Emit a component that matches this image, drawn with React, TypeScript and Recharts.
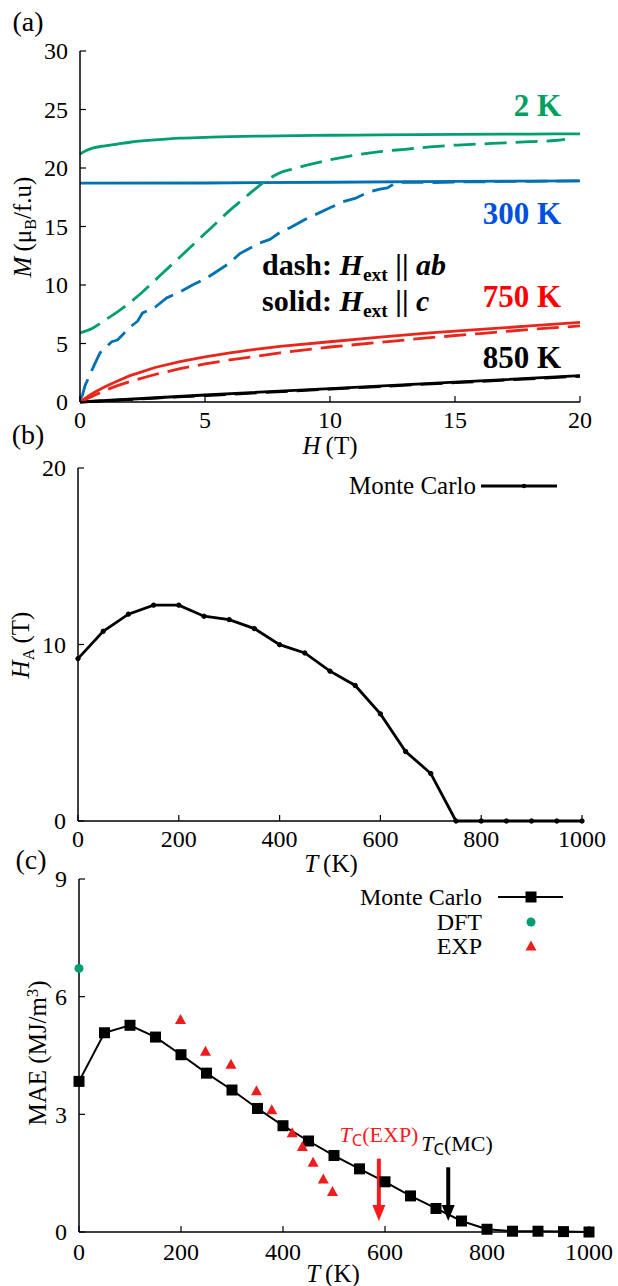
import React from "react";
import {
  LineChart,
  ComposedChart,
  Line,
  Scatter,
  XAxis,
  YAxis,
  ReferenceLine,
} from "recharts";

const SERIF = "'Liberation Serif', 'Times New Roman', serif";

// ---- (a) magnetisation curves, H in T, M in muB/f.u.
const h2Kc = [0, 0.25, 0.5, 1, 1.5, 2, 3, 4, 5, 6, 8, 10, 12, 15, 18, 20];
const m2Kc = [21.2, 21.5, 21.7, 21.9, 22.05, 22.2, 22.4, 22.55, 22.62, 22.68, 22.75, 22.8, 22.83, 22.87, 22.9, 22.92];
const h2Kab = [0, 0.5, 1, 1.5, 2, 2.5, 3, 3.5, 4, 4.5, 5, 5.5, 6, 6.5, 7, 7.5, 8, 8.5, 9, 10, 11, 12, 13, 14, 15, 16, 17, 18, 19, 19.4];
const m2Kab = [5.9, 6.3, 7.0, 7.7, 8.5, 9.4, 10.4, 11.4, 12.4, 13.4, 14.4, 15.4, 16.4, 17.3, 18.2, 19.0, 19.6, 19.9, 20.2, 20.7, 21.1, 21.4, 21.6, 21.8, 21.95, 22.05, 22.15, 22.25, 22.35, 22.45];
const h300c = [0, 5, 10, 15, 20];
const m300c = [18.7, 18.72, 18.78, 18.85, 18.9];
const h300ab = [0, 0.1, 0.2, 0.37, 0.6, 0.8, 1.0, 1.27, 1.5, 2.0, 2.3, 2.5, 3.0, 3.47, 4.0, 4.5, 5.07, 5.5, 6.0, 6.4, 7.2, 7.6, 8.0, 8.4, 9.0, 9.5, 10.0, 10.5, 11.0, 11.5, 12.0, 12.3, 12.6, 13, 14, 15, 16, 17, 18, 19, 20];
const m300ab = [0.2, 0.6, 1.4, 2.2, 3.3, 4.2, 4.6, 5.15, 5.3, 6.4, 6.9, 7.6, 8.1, 8.9, 9.4, 10.0, 10.6, 11.2, 11.9, 12.7, 13.6, 13.9, 14.5, 14.9, 15.6, 16.1, 16.6, 17.1, 17.4, 17.9, 18.2, 18.3, 18.7, 18.8, 18.75, 18.8, 18.82, 18.85, 18.85, 18.88, 18.9];
const h750c = [0, 0.3, 0.6, 1, 1.5, 2, 2.5, 3, 4, 5, 6, 7, 8, 10, 12, 14, 16, 18, 20];
const m750c = [0, 0.45, 0.85, 1.3, 1.8, 2.25, 2.6, 2.95, 3.45, 3.85, 4.2, 4.5, 4.75, 5.15, 5.55, 5.9, 6.2, 6.5, 6.8];
const h750ab = [0, 0.5, 1, 1.5, 2, 3, 4, 5, 6, 7, 8, 10, 12, 14, 16, 18, 20];
const m750ab = [0, 0.5, 1.0, 1.4, 1.75, 2.35, 2.85, 3.25, 3.6, 3.9, 4.2, 4.7, 5.1, 5.5, 5.85, 6.2, 6.5];
const h850 = [0, 5, 10, 15, 20];
const m850c = [0, 0.6, 1.15, 1.7, 2.25];
const m850ab = [0, 0.55, 1.1, 1.65, 2.2];

// ---- (b) anisotropy field vs temperature
const tempsMC = [0, 50, 100, 150, 200, 250, 300, 350, 400, 450, 500, 550, 600, 650, 700, 750, 800, 850, 900, 950, 1000];
const hA = [9.2, 10.75, 11.72, 12.23, 12.23, 11.6, 11.41, 10.9, 9.99, 9.52, 8.49, 7.68, 6.07, 3.94, 2.69, 0, 0, 0, 0, 0, 0];

// ---- (c) MAE vs temperature
const maeMC = [3.84, 5.08, 5.27, 4.97, 4.52, 4.05, 3.62, 3.15, 2.71, 2.32, 1.95, 1.61, 1.28, 0.92, 0.6, 0.28, 0.07, 0.02, 0.02, 0.01, 0];
const dftT = [0];
const dftMAE = [6.72];
const expT = [199, 248, 298, 348, 378, 418, 438, 459, 479, 497];
const expMAE = [5.42, 4.61, 4.28, 3.6, 3.12, 2.53, 2.18, 1.78, 1.35, 1.03];
const tcExp = 588;
const tcMC = 724;

const zip = (xs: number[], ys: number[]) => xs.map((x, i) => ({ x, y: ys[i] }));

const GREEN = "#009e73";
const BLUE = "#0072b2";
const RED = "#e8261c";

const axisLine = { stroke: "#000", strokeWidth: 1.5 };
const tickLine = { stroke: "#000", strokeWidth: 1.2 };

function SerifTick(props: any) {
  const { x, y, payload, textAnchor, orientation } = props;
  const dy = orientation === "bottom" ? "0.75em" : "0.35em";
  return (
    <text x={x} y={y} dy={dy} textAnchor={textAnchor} fontSize={24} fill="#000"
      style={{ fontFamily: SERIF }}>
      {payload.value}
    </text>
  );
}

function frameAxes(xDomain: number[], xTicks: number[], yDomain: number[], yTicks: number[], yWidth: number, xHeight: number, xMargin: number) {
  return [
    <XAxis key="xb" xAxisId="b" type="number" dataKey="x" domain={xDomain} ticks={xTicks} interval={0}
      height={xHeight} tickSize={-6} tickMargin={xMargin} tick={<SerifTick orientation="bottom" />} stroke="#000"
      axisLine={axisLine} tickLine={tickLine} />,
    <XAxis key="xt" xAxisId="t" orientation="top" type="number" dataKey="x" domain={xDomain} ticks={xTicks}
      interval={0} height={0} tickSize={-6} tick={false} stroke="#000" axisLine={axisLine} tickLine={tickLine} />,
    <YAxis key="yl" yAxisId="l" type="number" domain={yDomain} ticks={yTicks} interval={0} width={yWidth}
      tickSize={-6} tickMargin={18} tick={<SerifTick orientation="left" />} stroke="#000" axisLine={axisLine}
      tickLine={tickLine} />,
    <YAxis key="yr" yAxisId="r" orientation="right" type="number" domain={yDomain} ticks={yTicks} interval={0}
      width={0} tickSize={-6} tick={false} stroke="#000" axisLine={axisLine} tickLine={tickLine} />,
  ];
}

function Arrow(props: any) {
  const { x1, y1, x2, y2, stroke } = props;
  const head = 16;
  return (
    <g>
      <line x1={x1} y1={y1} x2={x2} y2={y2 - head + 2} stroke={stroke} strokeWidth={4} />
      <polygon points={`${x2 - 6.5},${y2 - head} ${x2 + 6.5},${y2 - head} ${x2},${y2}`} fill={stroke} />
    </g>
  );
}

const abs = (left: number, top: number, extra: React.CSSProperties = {}): React.CSSProperties => ({
  position: "absolute",
  left,
  top,
  whiteSpace: "nowrap",
  lineHeight: 1,
  ...extra,
});

function Sub({ children }: { children: React.ReactNode }) {
  return <span style={{ fontSize: "0.65em", position: "relative", top: "0.3em" }}>{children}</span>;
}

export default function App() {
  const lineA = { xAxisId: "b", yAxisId: "l", dataKey: "y", dot: false, isAnimationActive: false, strokeWidth: 2.8 } as const;
  const dash = "22 9";
  const title = { fontSize: 25, lineHeight: "20px" };
  const legendText = { fontSize: 24, lineHeight: "20px" };

  return (
    <div style={{ position: "absolute", left: 0, top: 0, width: 618, height: 1286, background: "#fff", fontFamily: SERIF, color: "#000" }}>
      {/* (a) */}
      <div style={{ position: "absolute", left: 0, top: 0 }}>
        <LineChart width={618} height={440} margin={{ top: 51, right: 38, left: 0, bottom: 0 }}>
          {frameAxes([0, 20], [0, 5, 10, 15, 20], [0, 30], [0, 5, 10, 15, 20, 25, 30], 80, 38, 14)}
          <Line {...lineA} data={zip(h850, m850ab)} stroke="#000" strokeDasharray={dash} />
          <Line {...lineA} data={zip(h850, m850c)} stroke="#000" />
          <Line {...lineA} data={zip(h750ab, m750ab)} stroke={RED} strokeDasharray={dash} />
          <Line {...lineA} data={zip(h750c, m750c)} stroke={RED} />
          <Line {...lineA} data={zip(h300ab, m300ab)} stroke={BLUE} strokeDasharray={dash} strokeLinejoin="round" />
          <Line {...lineA} data={zip(h300c, m300c)} stroke={BLUE} />
          <Line {...lineA} data={zip(h2Kab, m2Kab)} stroke={GREEN} strokeDasharray={dash} type="monotone" />
          <Line {...lineA} data={zip(h2Kc, m2Kc)} stroke={GREEN} type="monotone" />
        </LineChart>
      </div>

      {/* (b) */}
      <div style={{ position: "absolute", left: 0, top: 440 }}>
        <LineChart width={618} height={420} margin={{ top: 28, right: 36, left: 0, bottom: 0 }}>
          {frameAxes([0, 1000], [0, 200, 400, 600, 800, 1000], [0, 20], [0, 10, 20], 78, 39, 14)}
          <Line xAxisId="b" yAxisId="l" data={zip(tempsMC, hA)} dataKey="y" stroke="#000" strokeWidth={2.8}
            dot={{ r: 2.2, fill: "#000", stroke: "#000", strokeWidth: 1 }} isAnimationActive={false} />
        </LineChart>
      </div>

      {/* (c) */}
      <div style={{ position: "absolute", left: 0, top: 860 }}>
        <ComposedChart width={618} height={426} margin={{ top: 19, right: 29, left: 0, bottom: 0 }}>
          {frameAxes([0, 1000], [0, 200, 400, 600, 800, 1000], [0, 9], [0, 3, 6, 9], 79, 54, 16)}
          <Line xAxisId="b" yAxisId="l" data={zip(tempsMC, maeMC)} dataKey="y" stroke="#000" strokeWidth={2}
            isAnimationActive={false}
            dot={(p: any) => <rect key={`sq${p.index}`} x={p.cx - 5.5} y={p.cy - 5.5} width={11} height={11} fill="#000" />} />
          <Scatter xAxisId="b" yAxisId="l" data={zip(dftT, dftMAE)} dataKey="y" isAnimationActive={false}
            shape={(p: any) => <circle cx={p.cx} cy={p.cy} r={4.5} fill={GREEN} />} />
          <Scatter xAxisId="b" yAxisId="l" data={zip(expT, expMAE)} dataKey="y" isAnimationActive={false}
            shape={(p: any) => (
              <polygon points={`${p.cx - 5.5},${p.cy + 4.5} ${p.cx + 5.5},${p.cy + 4.5} ${p.cx},${p.cy - 5.5}`} fill="#ee1c1c" />
            )} />
          <ReferenceLine xAxisId="b" yAxisId="l" segment={[{ x: tcExp, y: 1.87 }, { x: tcExp, y: 0.28 }]}
            stroke="#ff1a1a" shape={Arrow} />
          <ReferenceLine xAxisId="b" yAxisId="l" segment={[{ x: tcMC, y: 1.65 }, { x: tcMC, y: 0.28 }]}
            stroke="#000" shape={Arrow} />
        </ComposedChart>
      </div>

      {/* panel letters */}
      <div style={abs(28, 22, { fontSize: 28, transform: "translate(-50%,-50%)" })}>(a)</div>
      <div style={abs(28, 435, { fontSize: 28, transform: "translate(-50%,-50%)" })}>(b)</div>
      <div style={abs(31, 860, { fontSize: 28, transform: "translate(-50%,-50%)" })}>(c)</div>

      {/* axis titles */}
      <div style={abs(330, 446, { ...title, transform: "translate(-50%,-50%)" })}><i>H</i>&thinsp;(T)</div>
      <div style={abs(331, 864, { ...title, transform: "translate(-50%,-50%)" })}><i>T</i>&thinsp;(K)</div>
      <div style={abs(333, 1274, { ...title, transform: "translate(-50%,-50%)" })}><i>T</i>&thinsp;(K)</div>
      <div style={abs(22, 227, { fontSize: 25, transform: "translate(-50%,-50%) rotate(-90deg)" })}>
        <i>M</i>&thinsp;(μ<Sub>B</Sub>/f.u)
      </div>
      <div style={abs(20, 645, { fontSize: 25, transform: "translate(-50%,-50%) rotate(-90deg)" })}>
        <i>H</i><Sub>A</Sub>&thinsp;(T)
      </div>
      <div style={abs(37, 1053, { fontSize: 25, transform: "translate(-50%,-50%) rotate(-90deg)" })}>
        MAE (MJ/m<span style={{ fontSize: "0.65em", position: "relative", top: "-0.5em" }}>3</span>)
      </div>

      {/* (a) annotations */}
      <div style={abs(561, 105, { fontSize: 31, fontWeight: 700, color: "#00a060", transform: "translate(-100%,-50%)" })}>2 K</div>
      <div style={abs(561, 213, { fontSize: 31, fontWeight: 700, color: "#0050e0", transform: "translate(-100%,-50%)" })}>300 K</div>
      <div style={abs(561, 296, { fontSize: 31, fontWeight: 700, color: "#ff0000", transform: "translate(-100%,-50%)" })}>750 K</div>
      <div style={abs(561, 357, { fontSize: 31, fontWeight: 700, color: "#000", transform: "translate(-100%,-50%)" })}>850 K</div>
      <div style={abs(262, 265, { fontSize: 30, fontWeight: 700, transform: "translateY(-50%)" })}>
        dash: <i>H</i><Sub>ext</Sub> || <i>ab</i>
      </div>
      <div style={abs(262, 301, { fontSize: 30, fontWeight: 700, transform: "translateY(-50%)" })}>
        solid: <i>H</i><Sub>ext</Sub> || <i>c</i>
      </div>

      {/* (b) legend */}
      <div style={abs(476, 486, { ...legendText, fontSize: 25, transform: "translate(-100%,-50%)" })}>Monte Carlo</div>
      <svg style={{ position: "absolute", left: 478, top: 478 }} width={84} height={16}>
        <line x1={3} y1={8} x2={79} y2={8} stroke="#000" strokeWidth={3} />
        <circle cx={46} cy={8} r={2.2} fill="#000" />
      </svg>

      {/* (c) legend */}
      <div style={abs(482, 897, { ...legendText, transform: "translate(-100%,-50%)" })}>Monte Carlo</div>
      <div style={abs(482, 922, { ...legendText, transform: "translate(-100%,-50%)" })}>DFT</div>
      <div style={abs(482, 946, { ...legendText, transform: "translate(-100%,-50%)" })}>EXP</div>
      <svg style={{ position: "absolute", left: 490, top: 885 }} width={80} height={72}>
        <line x1={8} y1={12} x2={73} y2={12} stroke="#000" strokeWidth={2.2} />
        <rect x={35.5} y={6.5} width={11} height={11} fill="#000" />
        <circle cx={41} cy={37} r={4.5} fill={GREEN} />
        <polygon points="35.5,65.5 46.5,65.5 41,55.5" fill="#ee1c1c" />
      </svg>

      {/* (c) Tc annotations */}
      <div style={abs(379, 1135, { fontSize: 22, color: "#ff1a1a", transform: "translate(-50%,-50%)" })}>
        <i>T</i><span style={{ fontSize: "0.75em", fontFamily: "'Noto Sans', sans-serif", position: "relative", top: "0.25em" }}>C</span>(EXP)
      </div>
      <div style={abs(457, 1144, { fontSize: 22, color: "#000", transform: "translate(-50%,-50%)" })}>
        <i>T</i><span style={{ fontSize: "0.75em", fontFamily: "'Noto Sans', sans-serif", position: "relative", top: "0.25em" }}>C</span>(MC)
      </div>
    </div>
  );
}
